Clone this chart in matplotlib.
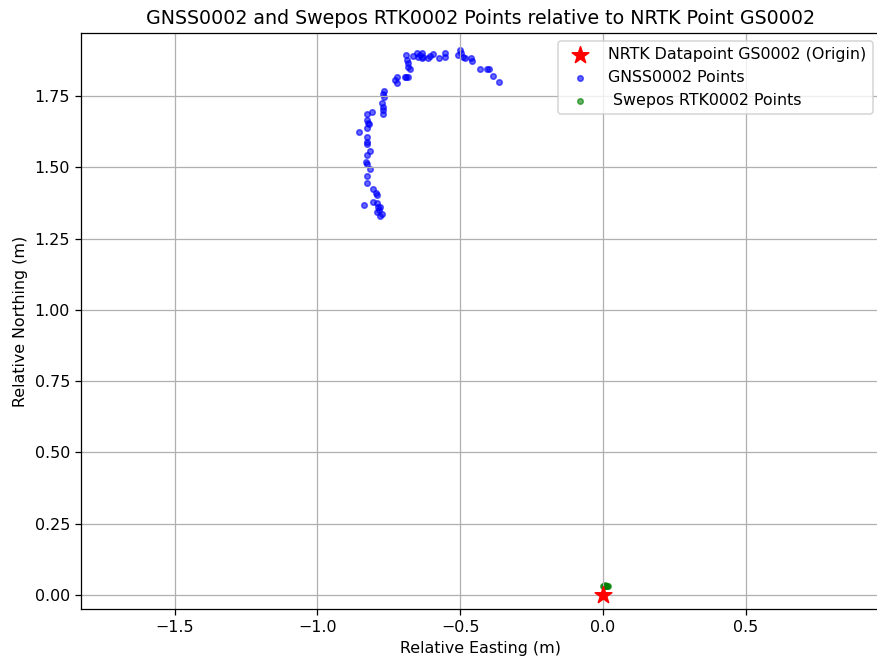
import numpy as np
import matplotlib
matplotlib.use('Agg')
import matplotlib.pyplot as plt

# GNSS0002 positions relative to the NRTK origin (m)
gnss_east = [
    -0.690, -0.686, -0.683, -0.683, -0.676,
    -0.665, -0.651, -0.648, -0.641, -0.634, -0.634, -0.630,
    -0.613, -0.606, -0.595, -0.574, -0.553, -0.553,
    -0.501, -0.508, -0.497, -0.490, -0.483, -0.462, -0.459,
    -0.431, -0.406, -0.399, -0.385, -0.364,
    -0.693, -0.683, -0.690, -0.721, -0.728, -0.721,
    -0.767, -0.767, -0.770, -0.774, -0.770, -0.770, -0.770,
    -0.809, -0.826, -0.826, -0.823, -0.819, -0.826, -0.854,
    -0.826, -0.826, -0.826, -0.816, -0.826, -0.830, -0.826, -0.816,
    -0.826, -0.826, -0.805, -0.795, -0.791, -0.837, -0.805, -0.791,
    -0.788, -0.781, -0.784, -0.791, -0.774, -0.781,
]
gnss_north = [
    1.894, 1.877, 1.866, 1.852, 1.845,
    1.891, 1.901, 1.887, 1.894, 1.901, 1.884, 1.887,
    1.884, 1.891, 1.898, 1.884, 1.901, 1.887,
    1.912, 1.894, 1.901, 1.887, 1.884, 1.884, 1.873,
    1.845, 1.845, 1.845, 1.820, 1.799,
    1.817, 1.817, 1.817, 1.817, 1.806, 1.796,
    1.768, 1.747, 1.757, 1.726, 1.712, 1.701, 1.687,
    1.694, 1.687, 1.666, 1.656, 1.652, 1.638, 1.624,
    1.606, 1.589, 1.582, 1.557, 1.543, 1.519, 1.512, 1.494,
    1.470, 1.445, 1.424, 1.410, 1.403, 1.368, 1.378, 1.375,
    1.361, 1.361, 1.350, 1.343, 1.336, 1.329,
]

# Swepos RTK0002 positions relative to the origin (m)
swepos_east = [0.001, 0.004, 0.007, 0.010, 0.013, 0.016, 0.008]
swepos_north = [0.030, 0.032, 0.033, 0.031, 0.032, 0.030, 0.034]

DPI = 114
fig = plt.figure(figsize=(877 / DPI, 659 / DPI), dpi=DPI)
ax = fig.add_axes([0.0924, 0.0759, 0.912, 0.874])

ax.scatter([0], [0], color='red', marker='*', s=120, zorder=5,
           label='NRTK Datapoint GS0002 (Origin)')
ax.scatter(gnss_east, gnss_north, color='blue', s=12, alpha=0.6,
           label='GNSS0002 Points')
ax.scatter(swepos_east, swepos_north, color='green', s=12, alpha=0.6,
           label=' Swepos RTK0002 Points')

ax.set_xlim(-1.828, 0.973)
ax.set_ylim(-0.049, 1.971)
ax.set_xticks([-1.5, -1.0, -0.5, 0.0, 0.5])
ax.set_yticks(np.arange(0, 2.0, 0.25))

ax.set_title('GNSS0002 and Swepos RTK0002 Points relative to NRTK Point GS0002', fontsize=12)
ax.set_xlabel('Relative Easting (m)')
ax.set_ylabel('Relative Northing (m)')
ax.grid(True)
ax.legend(loc='upper right')

fig.savefig('out.png', dpi=DPI)
